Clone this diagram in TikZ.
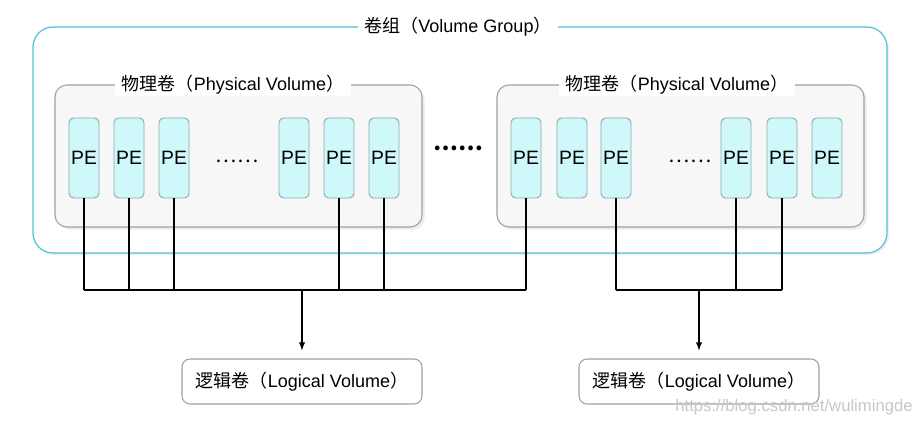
\documentclass[tikz,border=0pt]{standalone}
\usepackage{fontspec}
\setmainfont{Liberation Sans}
\newfontfamily\cjk{Noto Sans CJK SC}
\usetikzlibrary{shadows}

\definecolor{vgline}{HTML}{4CC2D8}
\definecolor{pefill}{HTML}{CEF8FA}
\definecolor{peline}{HTML}{8AA9AD}
\definecolor{pvline}{HTML}{A0A0A0}

\tikzset{
  vgbox/.style={draw=vgline, line width=0.9pt, rounded corners=15pt, fill=white,
    drop shadow={opacity=0.12, shadow xshift=1.5pt, shadow yshift=-1.5pt}},
  pvbox/.style={draw=pvline, line width=0.8pt, rounded corners=9pt, fill=black!3,
    drop shadow={opacity=0.15, shadow xshift=2pt, shadow yshift=-2pt}},
  pebox/.style={draw=peline, line width=0.7pt, rounded corners=3.5pt, fill=pefill,
    minimum width=22.5pt, minimum height=60pt, inner sep=0pt,
    font=\fontsize{14.5}{16}\selectfont},
  lvbox/.style={draw=pvline, line width=0.8pt, rounded corners=6pt, fill=white,
    minimum width=180pt, minimum height=33.75pt, font=\fontsize{13.5}{16}\selectfont},
  boxtitle/.style={fill=white, inner xsep=5pt, inner ysep=1pt, font=\fontsize{13.5}{16}\selectfont},
  wire/.style={line width=1.1pt},
}

\begin{document}
\begin{tikzpicture}[x=0.75pt, y=-0.75pt]
  \useasboundingbox (0,0) rectangle (917,424);

  % volume group
  \node[vgbox, minimum width=640.5pt, minimum height=169.5pt] (vg) at (460,140) {};
  \node[boxtitle] (vgtitle) at (458,27) {{\cjk 卷组（}Volume Group{\cjk ）}};

  % physical volumes
  \node[pvbox, minimum width=275.25pt, minimum height=106.5pt] (pv1) at (238.5,156) {};
  \node[pvbox, minimum width=275.25pt, minimum height=106.5pt] (pv2) at (680.5,156) {};
  \node[boxtitle, fill=white] (pv1title) at (233,85) {{\cjk 物理卷（}Physical Volume{\cjk ）}};
  \node[boxtitle, fill=white] (pv2title) at (677,85) {{\cjk 物理卷（}Physical Volume{\cjk ）}};

  % extents
  \node[pebox] (pe1) at (84,158) {PE};
  \node[pebox] (pe2) at (129,158) {PE};
  \node[pebox] (pe3) at (174,158) {PE};
  \node[pebox] (pe4) at (294,158) {PE};
  \node[pebox] (pe5) at (339,158) {PE};
  \node[pebox] (pe6) at (384,158) {PE};
  \node[pebox] (pe7) at (526,158) {PE};
  \node[pebox] (pe8) at (572,158) {PE};
  \node[pebox] (pe9) at (616,158) {PE};
  \node[pebox] (pe10) at (736,158) {PE};
  \node[pebox] (pe11) at (782,158) {PE};
  \node[pebox] (pe12) at (827,158) {PE};
  \node[font=\fontsize{15}{16}\selectfont] (dots1) at (237,161) {{\cjk ……}};
  \node[font=\fontsize{15}{16}\selectfont] (dots2) at (690,161) {{\cjk ……}};
  \node[font=\fontsize{16.5}{16}\selectfont\bfseries] (dots3) at (458,148) {{\cjk ……}};

  % logical volumes
  \node[lvbox] (lv1) at (302,381.5) {{\cjk 逻辑卷（}Logical Volume{\cjk ）}};
  \node[lvbox] (lv2) at (699,381.5) {{\cjk 逻辑卷（}Logical Volume{\cjk ）}};

  % wiring
  \coordinate (busA) at (302,290);
  \coordinate (busB) at (699,290);
  \draw[wire] (pe1) -- (pe1 |- busA);
  \draw[wire] (pe2) -- (pe2 |- busA);
  \draw[wire] (pe3) -- (pe3 |- busA);
  \draw[wire] (pe5) -- (pe5 |- busA);
  \draw[wire] (pe6) -- (pe6 |- busA);
  \draw[wire] (pe7) -- (pe7 |- busA);
  \draw[wire] (pe1 |- busA) -- (pe7 |- busA);
  \draw[wire] (pe9) -- (pe9 |- busB);
  \draw[wire] (pe10) -- (pe10 |- busB);
  \draw[wire] (pe11) -- (pe11 |- busB);
  \draw[wire] (pe9 |- busB) -- (pe11 |- busB);
  \draw[wire, -latex, shorten >=6pt] (busA) -- (lv1);
  \draw[wire, -latex, shorten >=6pt] (busB) -- (lv2);

  \node[text=black!22, font=\fontsize{12.5}{15}\selectfont] (mark) at (794,407) {https://blog.csdn.net/wulimingde};
\end{tikzpicture}
\end{document}
